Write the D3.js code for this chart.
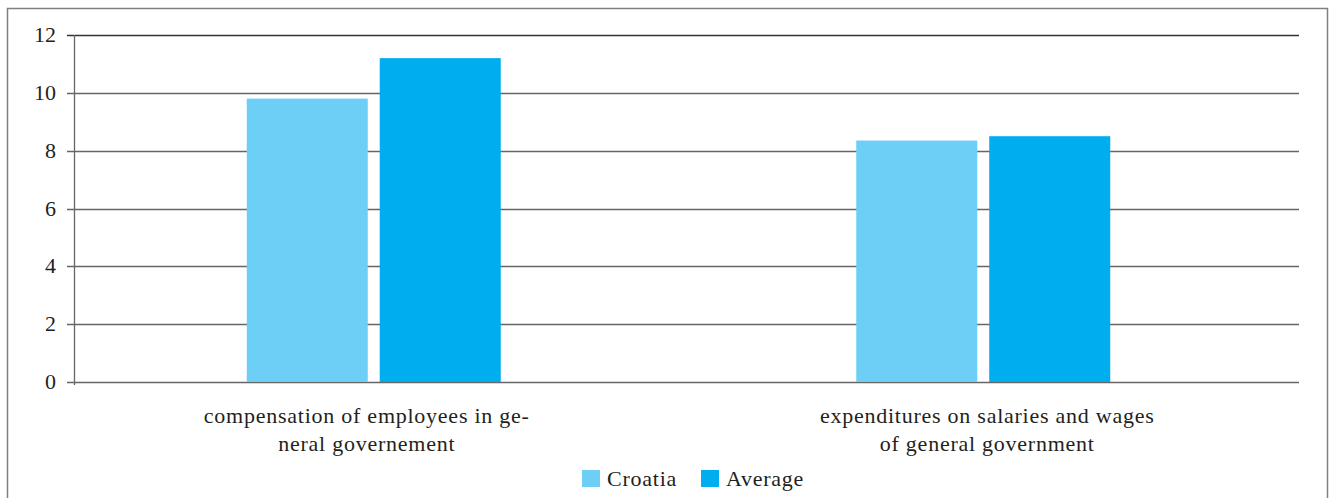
<!DOCTYPE html>
<html>
<head>
<meta charset="utf-8">
<script src="https://cdn.jsdelivr.net/npm/d3@7"></script>
<style>
  body { margin: 0; background: #fff; font-family: Liberation Serif, Times New Roman, DejaVu Serif, serif; }
  svg text { fill: #231f20; }
</style>
</head>
<body>
<div id="chart"></div>
<script>
// data
var categories = [
  ["compensation of employees in ge-", "neral governement"],
  ["expenditures on salaries and wages", "of general government"]
];
var seriesNames = ["Croatia", "Average"];
var croatia = [9.8, 8.35];
var average = [11.2, 8.5];
var yTicks = [0, 2, 4, 6, 8, 10, 12];
var colors = ["#6dcff6", "#00aeef"];

var svgWidth = 1330;
var svgHeight = 498;

var svg = d3.select("#chart")
  .append("svg")
  .attr("width", svgWidth)
  .attr("height", svgHeight)
  .style("font-family", "Liberation Serif, Times New Roman, DejaVu Serif, serif");

// outer frame
svg.append("rect")
  .attr("x", 7.5)
  .attr("y", 8.5)
  .attr("width", 1320)
  .attr("height", 520)
  .attr("fill", "none")
  .attr("stroke", "#808080")
  .attr("stroke-width", 1.5);

var plotLeft = 74, plotRight = 1299, plotTop = 35, plotBottom = 382;

var y = d3.scaleLinear()
  .domain([0, 12])
  .range([plotBottom, plotTop]);

var x0 = d3.scaleBand()
  .domain(d3.range(categories.length))
  .range([69, 1288]);

var x1 = d3.scaleBand()
  .domain(seriesNames)
  .range([0, 254])
  .paddingInner(0.09);

var groupOffset = (x0.bandwidth() - 254) / 2;

// gridlines
svg.append("g")
  .selectAll("line")
  .data(yTicks)
  .enter()
  .append("line")
  .attr("x1", 67)
  .attr("x2", plotRight)
  .attr("y1", d => Math.round(y(d)) + 0.5)
  .attr("y2", d => Math.round(y(d)) + 0.5)
  .attr("stroke", d => d === 12 ? "#333" : "#666")
  .attr("stroke-width", 1.3);

// bars
var rows = categories.map((c, i) => [
  { s: "Croatia", v: croatia[i] },
  { s: "Average", v: average[i] }
]);

var groups = svg.selectAll(".grp")
  .data(rows)
  .enter()
  .append("g")
  .attr("transform", (d, i) => `translate(${x0(i) + groupOffset}, 0)`);

groups.selectAll("rect")
  .data(d => d)
  .enter()
  .append("rect")
  .attr("x", d => x1(d.s))
  .attr("width", x1.bandwidth())
  .attr("y", d => y(d.v))
  .attr("height", d => y(0) - y(d.v))
  .attr("fill", (d, i) => colors[i]);

// y axis line
svg.append("line")
  .attr("x1", plotLeft + 0.5)
  .attr("x2", plotLeft + 0.5)
  .attr("y1", plotTop)
  .attr("y2", plotBottom + 3)
  .attr("stroke", "#666")
  .attr("stroke-width", 1.3);

// y tick labels
svg.append("g")
  .selectAll("text")
  .data(yTicks)
  .enter()
  .append("text")
  .attr("x", 56)
  .attr("y", d => y(d) + 7)
  .attr("text-anchor", "end")
  .style("font-size", "22px")
  .text(d => d);

// category labels
var catLabels = svg.append("g")
  .selectAll("text")
  .data(categories)
  .enter()
  .append("text")
  .attr("text-anchor", "middle")
  .style("font-size", "22px")
  .style("letter-spacing", "0.75px");

catLabels.selectAll("tspan")
  .data((d, i) => d.map(line => ({ line: line, i: i })))
  .enter()
  .append("tspan")
  .attr("x", d => x0(d.i) + x0.bandwidth() / 2 - (d.i === 0 ? 7 : -4))
  .attr("y", (d, j) => 423 + j * 28)
  .text(d => d.line);

// legend
var legend = svg.append("g");
var legendX = [582, 701];

legend.selectAll("rect")
  .data(seriesNames)
  .enter()
  .append("rect")
  .attr("x", (d, i) => legendX[i])
  .attr("y", 470)
  .attr("width", 18)
  .attr("height", 17)
  .attr("fill", (d, i) => colors[i]);

legend.selectAll("text")
  .data(seriesNames)
  .enter()
  .append("text")
  .attr("x", (d, i) => legendX[i] + 25)
  .attr("y", 486)
  .style("font-size", "22px")
  .style("letter-spacing", "0.75px")
  .text(d => d);
</script>
</body>
</html>
